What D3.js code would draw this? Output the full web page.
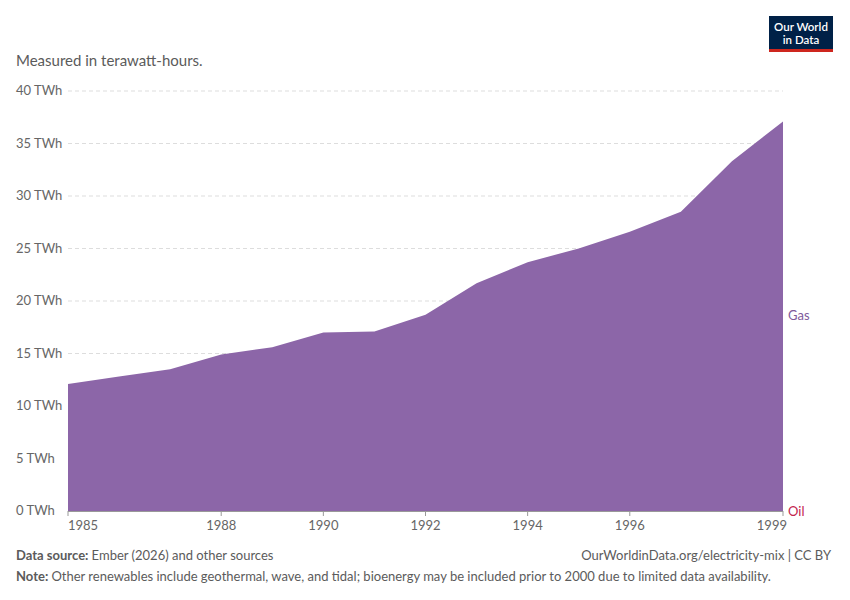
<!DOCTYPE html>
<html lang="en">
<head>
<meta charset="utf-8">
<script src="https://d3js.org/d3.v7.min.js"></script>
<style>
body { margin: 0; background: #fff; }
text { font-family: Lato, "Noto Sans", sans-serif; }
</style>
</head>
<body>
<div id="chart"></div>
<script>
const years = [1985,1986,1987,1988,1989,1990,1991,1992,1993,1994,1995,1996,1997,1998,1999];
const gas = [12.1,12.8,13.5,14.9,15.6,17.0,17.1,18.7,21.7,23.7,25.0,26.6,28.5,33.3,37.1];
const oil = [0,0,0,0,0,0,0,0,0,0,0,0,0,0,0];
const yTicks = [0,5,10,15,20,25,30,35,40];
const xTicks = [1985,1988,1990,1992,1994,1996,1999];

const width = 850, height = 600;
const svg = d3.select('#chart').append('svg').attr('width', width).attr('height', height);

const x = d3.scaleLinear().domain([1985, 1999]).range([68, 783]);
const y = d3.scaleLinear().domain([0, 40]).range([511, 91]);

// logo
svg.append('rect').attr('x', 769).attr('y', 16).attr('width', 64).attr('height', 33).attr('fill', '#002147');
svg.append('rect').attr('x', 769).attr('y', 49).attr('width', 64).attr('height', 3).attr('fill', '#ce261e');
svg.append('text').attr('x', 801).attr('y', 31).attr('text-anchor', 'middle').attr('fill', '#fff')
  .attr('font-size', 11.5).attr('font-weight', 600).text('Our World');
svg.append('text').attr('x', 801).attr('y', 44).attr('text-anchor', 'middle').attr('fill', '#fff')
  .attr('font-size', 11.5).attr('font-weight', 600).text('in Data');

svg.append('text').attr('x', 16).attr('y', 66).attr('font-size', 15).attr('fill', '#5b5b5b')
  .text('Measured in terawatt-hours.');

// grid
svg.selectAll('.grid').data(yTicks.filter(d => d > 0)).enter().append('line')
  .attr('x1', 68).attr('x2', 783).attr('y1', d => y(d)).attr('y2', d => y(d))
  .attr('stroke', '#ddd').attr('stroke-dasharray', '4,3');
svg.selectAll('.ylab').data(yTicks).enter().append('text')
  .attr('x', 16).attr('y', d => y(d) + 4).attr('font-size', 13).attr('fill', '#666')
  .text(d => d + ' TWh');

const data = years.map((yr, i) => ({ yr, oil: oil[i], gas: gas[i] }));
const area = d3.area().x(d => x(d.yr));
svg.append('path').datum(data)
  .attr('d', area.y0(d => y(d.oil)).y1(d => y(d.oil + d.gas)))
  .attr('fill', '#8c66a8');
svg.append('path').datum(data)
  .attr('d', area.y0(y(0)).y1(d => y(d.oil)))
  .attr('fill', '#c3244e');

svg.append('line').attr('x1', 68).attr('x2', 783).attr('y1', 511.5).attr('y2', 511.5).attr('stroke', '#999');
svg.selectAll('.xt').data(xTicks).enter().append('line')
  .attr('x1', d => x(d)).attr('x2', d => x(d)).attr('y1', 511).attr('y2', 516).attr('stroke', '#999');
svg.selectAll('.xlab').data(xTicks).enter().append('text')
  .attr('x', d => x(d)).attr('y', 530).attr('font-size', 13).attr('fill', '#666')
  .attr('text-anchor', (d, i) => i === 0 ? 'start' : (i === xTicks.length - 1 ? 'end' : 'middle'))
  .attr('dx', (d, i) => i === 0 ? 0 : (i === xTicks.length - 1 ? 4 : 0))
  .text(d => d);

svg.append('text').attr('x', 788).attr('y', y(gas[gas.length - 1] / 2) + 4).attr('font-size', 13)
  .attr('fill', '#7e5a9b').text('Gas');
svg.append('text').attr('x', 788).attr('y', 516).attr('font-size', 13)
  .attr('fill', '#c3244e').text('Oil');

const f = svg.append('text').attr('x', 16).attr('y', 560).attr('font-size', 13).attr('fill', '#5b5b5b');
f.append('tspan').attr('font-weight', 700).text('Data source: ');
f.append('tspan').text('Ember (2026) and other sources');
svg.append('text').attr('x', 831).attr('y', 560).attr('text-anchor', 'end').attr('font-size', 13)
  .attr('fill', '#5b5b5b').text('OurWorldinData.org/electricity-mix | CC BY');
const n = svg.append('text').attr('x', 16).attr('y', 581).attr('font-size', 13).attr('fill', '#5b5b5b');
n.append('tspan').attr('font-weight', 700).text('Note: ');
n.append('tspan').text('Other renewables include geothermal, wave, and tidal; bioenergy may be included prior to 2000 due to limited data availability.');
</script>
</body>
</html>
